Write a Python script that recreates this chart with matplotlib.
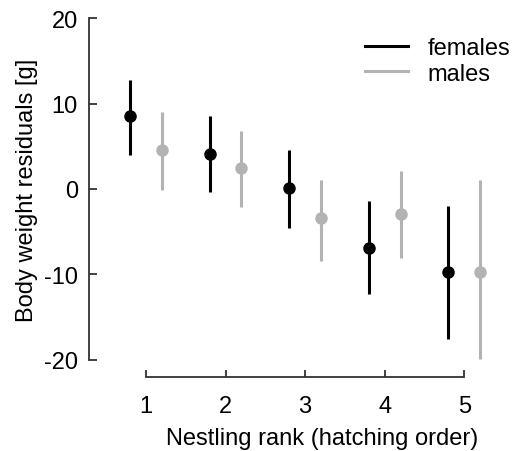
import matplotlib
matplotlib.use("Agg")
import matplotlib.pyplot as plt
import numpy as np

plt.rcParams['font.family'] = ['Liberation Sans', 'DejaVu Sans']
plt.rcParams['axes.unicode_minus'] = False

ranks = [1, 2, 3, 4, 5]

# females: mean, lower, upper
fem_mean = [8.5, 4.1, 0.1, -6.9, -9.7]
fem_low = [4.0, -0.3, -4.6, -12.3, -17.6]
fem_high = [12.8, 8.5, 4.6, -1.4, -1.95]

# males: mean, lower, upper
male_mean = [4.6, 2.4, -3.4, -2.9, -9.7]
male_low = [-0.1, -2.1, -8.4, -8.1, -19.9]
male_high = [9.0, 6.8, 1.1, 2.1, 1.0]

fem_color = "black"
male_color = "#b3b3b3"
spine_color = "#333333"
fs = 17

fig = plt.figure(figsize=(5.15, 4.52), dpi=100)
ax = fig.add_axes([89 / 515, 74 / 452, 411 / 515, 376 / 452])

x = np.array(ranks)
for xs, m, lo, hi, c, lab in [(x - 0.2, fem_mean, fem_low, fem_high, fem_color, "females"),
                              (x + 0.2, male_mean, male_low, male_high, male_color, "males")]:
	m = np.array(m)
	err = [m - np.array(lo), np.array(hi) - m]
	ax.errorbar(xs, m, yerr=err, fmt='o', color=c, ecolor=c, elinewidth=2.2,
				markersize=8, capsize=0, label=lab)

ax.set_xlim(0.283, 5.45)
ax.set_ylim(-22, 22)

for s in ["top", "right"]:
	ax.spines[s].set_visible(False)
for s in ["left", "bottom"]:
	ax.spines[s].set_color(spine_color)
	ax.spines[s].set_linewidth(1.3)
ax.spines["left"].set_bounds(-20, 20)
ax.spines["bottom"].set_bounds(1, 5)

ax.set_yticks([-20, -10, 0, 10, 20])
ax.set_xticks(ranks)
ax.tick_params(axis='y', direction='in', length=6, width=1.3, color=spine_color,
			   labelsize=fs, pad=8)
ax.tick_params(axis='x', direction='in', length=5, width=1.3, color=spine_color,
			   labelsize=fs, pad=13)

ax.set_ylabel("Body weight residuals [g]", fontsize=fs)
ax.set_xlabel("Nestling rank (hatching order)", fontsize=fs)
ax.yaxis.set_label_coords(-0.125, 0.5)
ax.xaxis.set_label_coords(0.567, -0.133)

handles = [plt.Line2D([], [], color=fem_color, lw=2.2),
		   plt.Line2D([], [], color=male_color, lw=2.2)]
ax.legend(handles, ["females", "males"], frameon=False, fontsize=fs,
		  loc="upper left", bbox_to_anchor=(365 / 515, 1 - 38 / 452),
		  bbox_transform=fig.transFigure, borderpad=0, borderaxespad=0,
		  handlelength=1.8, handletextpad=0.85, labelspacing=0.15)

plt.savefig("out.png", dpi=100)
